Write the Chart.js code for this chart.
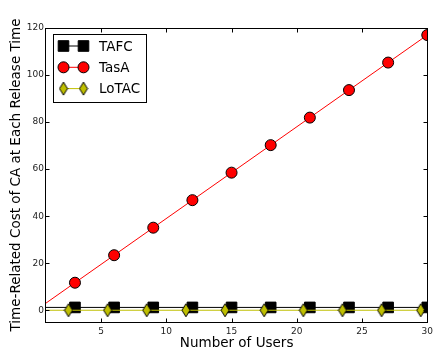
<!DOCTYPE html>
<html>
<head>
    <title>Time-Related Cost of CA vs Number of Users</title>
    <script src="https://cdn.jsdelivr.net/npm/chart.js"></script>
    <style>
        body { margin: 0; background: #fff; }
        .chart-box { width: 437px; height: 356px; position: relative; }
    </style>
</head>
<body>
    <div class="chart-box"><canvas id="costChart"></canvas></div>
    <script>
        // values; the first entry of each series is where its line starts (left of the axis)
        const tafcUsers = [0, 3, 6, 9, 12, 15, 18, 21, 24, 27, 30];
        const tasaUsers = [0, 3, 6, 9, 12, 15, 18, 21, 24, 27, 30];
        const lotacUsers = [0, 2.5, 5.5, 8.5, 11.5, 14.5, 17.5, 20.5, 23.5, 26.5, 29.5];
        const tafcCost = [1.2, 1.2, 1.2, 1.2, 1.2, 1.2, 1.2, 1.2, 1.2, 1.2, 1.2];
        const tasaCost = [0, 11.7, 23.4, 35.1, 46.8, 58.5, 70.2, 81.9, 93.6, 105.3, 117.0];
        const lotacCost = [0, 0, 0, 0, 0, 0, 0, 0, 0, 0, 0];
        const xTicks = [5, 10, 15, 20, 25, 30];
        const yTicks = [0, 20, 40, 60, 80, 100, 120];

        const FONT = 'DejaVu Sans';

        // thin diamond marker like matplotlib's 'd'
        function makeDiamond(w, h, fill) {
            const c = document.createElement('canvas');
            c.width = w + 2;
            c.height = h + 2;
            const g = c.getContext('2d');
            g.beginPath();
            g.moveTo(c.width / 2, 1);
            g.lineTo(c.width - 1, c.height / 2);
            g.lineTo(c.width / 2, c.height - 1);
            g.lineTo(1, c.height / 2);
            g.closePath();
            g.fillStyle = fill;
            g.fill();
            g.lineWidth = 1;
            g.strokeStyle = '#000';
            g.stroke();
            return c;
        }
        const diamond = makeDiamond(8, 13, '#bfbf00');

        const pts = (xs, ys) => xs.map((x, i) => ({x: x, y: ys[i]}));
        const hideFirst = r => ctx => ctx.dataIndex === 0 ? 0 : r;

        // inward ticks on all four sides plus the box
        const frameTicks = {
            id: 'frameTicks',
            afterDatasetsDraw(chart) {
                const {ctx, chartArea: a, scales: {x, y}} = chart;
                ctx.save();
                ctx.strokeStyle = '#000';
                ctx.lineWidth = 1;
                const L = Math.round(a.left) - 0.5, R = Math.round(a.right) + 0.5;
                const T = Math.round(a.top) + 0.5, B = Math.round(a.bottom) + 0.5;
                ctx.strokeRect(L, T, R - L, B - T);
                ctx.beginPath();
                xTicks.forEach(v => {
                    const px = Math.round(x.getPixelForValue(v)) + 0.5;
                    ctx.moveTo(px, B); ctx.lineTo(px, B - 4);
                    ctx.moveTo(px, T); ctx.lineTo(px, T + 4);
                });
                yTicks.forEach(v => {
                    const py = Math.round(y.getPixelForValue(v)) + 0.5;
                    ctx.moveTo(L, py); ctx.lineTo(L + 4, py);
                    ctx.moveTo(R, py); ctx.lineTo(R - 4, py);
                });
                ctx.stroke();
                ctx.restore();
            }
        };

        function drawMarker(ctx, ds, px, py) {
            if (ds.pointStyle instanceof HTMLCanvasElement) {
                ctx.drawImage(ds.pointStyle, px - ds.pointStyle.width / 2, py - ds.pointStyle.height / 2);
                return;
            }
            ctx.beginPath();
            if (ds.pointStyle === 'rect') {
                const s = Math.SQRT1_2 * ds.markerSize;
                ctx.rect(px - s, py - s, 2 * s, 2 * s);
            } else {
                ctx.arc(px, py, ds.markerSize, 0, Math.PI * 2);
            }
            ctx.fillStyle = ds.pointBackgroundColor;
            ctx.fill();
            ctx.strokeStyle = '#000';
            ctx.lineWidth = 1;
            ctx.stroke();
        }

        // matplotlib-style legend with two markers per entry
        const legendBox = {
            id: 'legendBox',
            afterDraw(chart) {
                const ctx = chart.ctx;
                ctx.save();
                ctx.fillStyle = '#fff';
                ctx.fillRect(53.5, 34.5, 93, 68);
                ctx.strokeStyle = '#000';
                ctx.lineWidth = 1;
                ctx.strokeRect(53.5, 34.5, 93, 68);
                chart.data.datasets.forEach((ds, i) => {
                    const ly = 46 + i * 21.3;
                    ctx.beginPath();
                    ctx.moveTo(63, ly);
                    ctx.lineTo(83, ly);
                    ctx.strokeStyle = ds.borderColor;
                    ctx.lineWidth = 1;
                    ctx.stroke();
                    drawMarker(ctx, ds, 63.5, ly);
                    drawMarker(ctx, ds, 83.5, ly);
                    ctx.fillStyle = '#000';
                    ctx.font = '13.5px "' + FONT + '"';
                    ctx.textBaseline = 'middle';
                    ctx.textAlign = 'left';
                    ctx.fillText(ds.label, 99, ly + 1);
                });
                ctx.restore();
            }
        };

        new Chart(document.getElementById('costChart'), {
            type: 'line',
            data: {
                datasets: [{
                    label: 'TAFC',
                    data: pts(tafcUsers, tafcCost),
                    borderColor: '#000',
                    borderWidth: 1,
                    pointStyle: 'rect',
                    markerSize: 7.5,
                    pointRadius: hideFirst(7.5),
                    pointBackgroundColor: '#000',
                    pointBorderColor: '#000',
                    pointBorderWidth: 1,
                    order: 2
                }, {
                    label: 'TasA',
                    data: pts(tasaUsers, tasaCost),
                    borderColor: '#ff0000',
                    borderWidth: 1,
                    pointStyle: 'circle',
                    markerSize: 5.5,
                    pointRadius: hideFirst(5.5),
                    pointBackgroundColor: '#ff0000',
                    pointBorderColor: '#000',
                    pointBorderWidth: 1,
                    order: 1
                }, {
                    label: 'LoTAC',
                    data: pts(lotacUsers, lotacCost),
                    borderColor: '#bfbf00',
                    borderWidth: 1,
                    pointStyle: diamond,
                    pointRadius: hideFirst(6),
                    pointBackgroundColor: '#bfbf00',
                    order: 0
                }]
            },
            options: {
                responsive: true,
                maintainAspectRatio: false,
                animation: false,
                events: [],
                devicePixelRatio: 1,
                layout: { padding: { top: 28, right: 4, left: 0, bottom: 0 } },
                plugins: {
                    legend: { display: false },
                    tooltip: { enabled: false }
                },
                scales: {
                    x: {
                        type: 'linear',
                        min: 0.78,
                        max: 30,
                        grid: { display: false, drawTicks: false },
                        border: { display: false },
                        afterBuildTicks: s => { s.ticks = xTicks.map(v => ({value: v})); },
                        afterFit: s => { s.height = 34; },
                        ticks: {
                            padding: 4,
                            maxRotation: 0,
                            autoSkip: false,
                            color: '#222',
                            font: { family: FONT, size: 9 }
                        },
                        title: {
                            display: true,
                            text: 'Number of Users',
                            color: '#000',
                            padding: { top: 0, bottom: 4 },
                            font: { family: FONT, size: 13.5 }
                        }
                    },
                    y: {
                        min: -5,
                        max: 120,
                        grid: { display: false, drawTicks: false },
                        border: { display: false },
                        afterBuildTicks: s => { s.ticks = yTicks.map(v => ({value: v})); },
                        afterFit: s => { s.width = 46; },
                        ticks: {
                            padding: 2,
                            color: '#222',
                            font: { family: FONT, size: 9 }
                        },
                        title: {
                            display: true,
                            text: 'Time-Related Cost of CA at Each Release Time',
                            color: '#000',
                            padding: { top: 8, bottom: 0 },
                            font: { family: FONT, size: 13.5 }
                        }
                    }
                }
            },
            plugins: [frameTicks, legendBox]
        });
    </script>
</body>
</html>
